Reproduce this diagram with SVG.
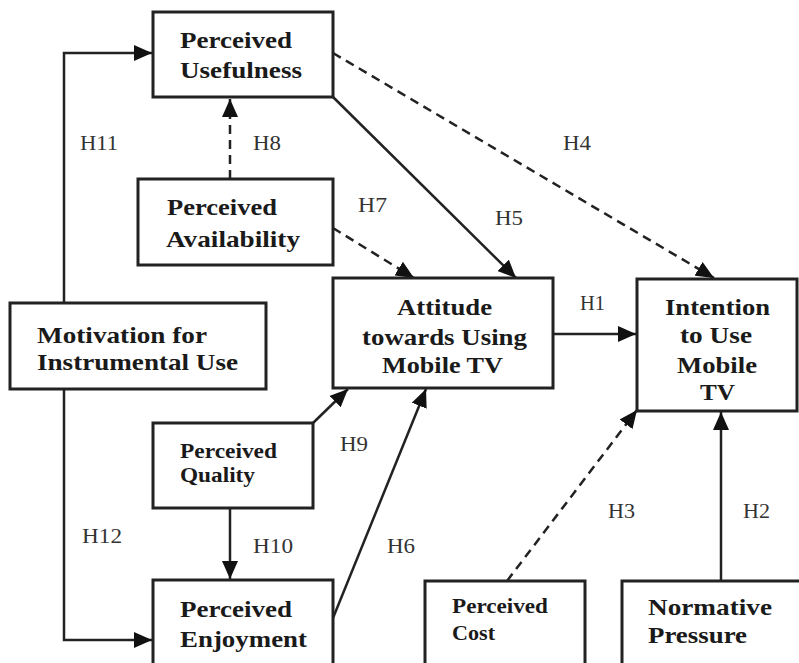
<svg xmlns="http://www.w3.org/2000/svg" width="799" height="663" viewBox="0 0 799 663">
<style>
.box{fill:#fff;stroke:#222;stroke-width:3}
.t{font-family:"Liberation Serif","Times New Roman",serif;font-weight:bold;font-size:23px;fill:#1a1a1a}
.ts{font-family:"Liberation Serif","Times New Roman",serif;font-weight:bold;font-size:20px;fill:#1a1a1a}
.lb{font-family:"Liberation Serif","Times New Roman",serif;font-size:20px;fill:#333}
.c{fill:none;stroke:#222;stroke-width:2.5}
.d{stroke-dasharray:9 6}
</style>
<defs>
<marker id="ah" viewBox="0 0 18 16" refX="18" refY="8" markerWidth="18" markerHeight="16" markerUnits="userSpaceOnUse" orient="auto">
<path d="M0,0 L18,8 L0,16 Z" fill="#111"/>
</marker>
</defs>
<rect width="799" height="663" fill="#fff"/>
<g id="connectors">
<polyline class="c" points="64,303 64,53 152,53" marker-end="url(#ah)"/>
<polyline class="c" points="64,389 64,640 152,640" marker-end="url(#ah)"/>
<line class="c d" x1="230" y1="179" x2="230" y2="99" marker-end="url(#ah)"/>
<line class="c d" x1="333" y1="53" x2="714" y2="278" marker-end="url(#ah)"/>
<line class="c" x1="333" y1="97" x2="516" y2="278" marker-end="url(#ah)"/>
<line class="c d" x1="333" y1="228" x2="414" y2="278" marker-end="url(#ah)"/>
<line class="c" x1="553" y1="334" x2="636" y2="334" marker-end="url(#ah)"/>
<line class="c" x1="313" y1="423" x2="348" y2="389" marker-end="url(#ah)"/>
<line class="c" x1="230" y1="508" x2="230" y2="579" marker-end="url(#ah)"/>
<line class="c" x1="333" y1="618" x2="426" y2="389" marker-end="url(#ah)"/>
<line class="c d" x1="507" y1="581" x2="637" y2="410" marker-end="url(#ah)"/>
<line class="c" x1="721" y1="581" x2="721" y2="412" marker-end="url(#ah)"/>
<text class="lb" x="80" y="150" textLength="38" lengthAdjust="spacingAndGlyphs">H11</text>
<text class="lb" x="253" y="150" textLength="28" lengthAdjust="spacingAndGlyphs">H8</text>
<text class="lb" x="563" y="150" textLength="28" lengthAdjust="spacingAndGlyphs">H4</text>
<text class="lb" x="358" y="212" textLength="29" lengthAdjust="spacingAndGlyphs">H7</text>
<text class="lb" x="495" y="225" textLength="28" lengthAdjust="spacingAndGlyphs">H5</text>
<text class="lb" x="580" y="310" textLength="25" lengthAdjust="spacingAndGlyphs">H1</text>
<text class="lb" x="340" y="451" textLength="28" lengthAdjust="spacingAndGlyphs">H9</text>
<text class="lb" x="82" y="543" textLength="40" lengthAdjust="spacingAndGlyphs">H12</text>
<text class="lb" x="253" y="553" textLength="40" lengthAdjust="spacingAndGlyphs">H10</text>
<text class="lb" x="387" y="553" textLength="28" lengthAdjust="spacingAndGlyphs">H6</text>
<text class="lb" x="608" y="518" textLength="27" lengthAdjust="spacingAndGlyphs">H3</text>
<text class="lb" x="743" y="518" textLength="27" lengthAdjust="spacingAndGlyphs">H2</text>
</g>
<g id="perceived-usefulness">
<rect class="box" x="153" y="12" width="180" height="85"/>
<text class="t" x="180" y="48" textLength="112" lengthAdjust="spacingAndGlyphs">Perceived</text>
<text class="t" x="180" y="78" textLength="122" lengthAdjust="spacingAndGlyphs">Usefulness</text>
</g>
<g id="perceived-availability">
<rect class="box" x="138" y="179" width="195" height="86"/>
<text class="t" x="167" y="215" textLength="110" lengthAdjust="spacingAndGlyphs">Perceived</text>
<text class="t" x="166" y="247" textLength="134" lengthAdjust="spacingAndGlyphs">Availability</text>
</g>
<g id="motivation">
<rect class="box" x="10" y="303" width="256" height="86"/>
<text class="t" x="37" y="343" textLength="170" lengthAdjust="spacingAndGlyphs">Motivation for</text>
<text class="t" x="37" y="370" textLength="201" lengthAdjust="spacingAndGlyphs">Instrumental Use</text>
</g>
<g id="attitude">
<rect class="box" x="333" y="278" width="220" height="110"/>
<text class="t" x="397" y="315" textLength="95" lengthAdjust="spacingAndGlyphs">Attitude</text>
<text class="t" x="362" y="345" textLength="165" lengthAdjust="spacingAndGlyphs">towards Using</text>
<text class="t" x="382" y="373" textLength="121" lengthAdjust="spacingAndGlyphs">Mobile TV</text>
</g>
<g id="intention">
<rect class="box" x="637" y="279" width="160" height="132"/>
<text class="t" x="665" y="315" textLength="105" lengthAdjust="spacingAndGlyphs">Intention</text>
<text class="t" x="680" y="343" textLength="72" lengthAdjust="spacingAndGlyphs">to Use</text>
<text class="t" x="677" y="373" textLength="80" lengthAdjust="spacingAndGlyphs">Mobile</text>
<text class="t" x="700" y="400" textLength="35" lengthAdjust="spacingAndGlyphs">TV</text>
</g>
<g id="perceived-quality">
<rect class="box" x="153" y="423" width="160" height="85"/>
<text class="ts" x="180" y="458" textLength="97" lengthAdjust="spacingAndGlyphs">Perceived</text>
<text class="ts" x="180" y="482" textLength="75" lengthAdjust="spacingAndGlyphs">Quality</text>
</g>
<g id="perceived-enjoyment">
<rect class="box" x="153" y="580" width="180" height="100"/>
<text class="t" x="180" y="617" textLength="112" lengthAdjust="spacingAndGlyphs">Perceived</text>
<text class="t" x="180" y="647" textLength="127" lengthAdjust="spacingAndGlyphs">Enjoyment</text>
</g>
<g id="perceived-cost">
<rect class="box" x="425" y="581" width="160" height="100"/>
<text class="ts" x="452" y="613" textLength="96" lengthAdjust="spacingAndGlyphs">Perceived</text>
<text class="ts" x="452" y="640" textLength="43" lengthAdjust="spacingAndGlyphs">Cost</text>
</g>
<g id="normative-pressure">
<rect class="box" x="622" y="581" width="200" height="100"/>
<text class="t" x="648" y="615" textLength="124" lengthAdjust="spacingAndGlyphs">Normative</text>
<text class="t" x="648" y="643" textLength="99" lengthAdjust="spacingAndGlyphs">Pressure</text>
</g>
</svg>
